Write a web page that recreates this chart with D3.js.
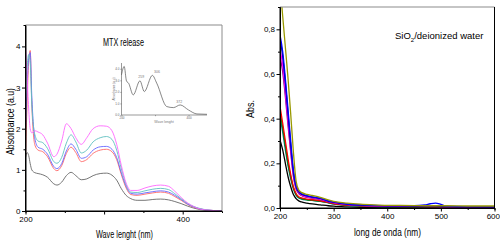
<!DOCTYPE html>
<html>
<head>
<meta charset="utf-8">
<script src="https://cdn.jsdelivr.net/npm/d3@7"></script>
<style>
  body { margin: 0; background: #fff; }
  text { font-family: "Liberation Sans", Arial, sans-serif; }
</style>
</head>
<body>
<div id="fig"></div>
<script>
var W = 500, H = 241;

// ---- left panel : MTX release ----
var nmL = [200, 202, 204, 206, 208, 212, 216, 222, 228, 236, 240, 246, 252, 258, 264, 271, 278, 286, 295, 303,
    310, 316, 322, 328, 334, 342, 352, 362, 372, 382, 390, 398, 406, 414, 422, 430, 440, 450];
var grayL = [1.3, 1.42, 1.35, 1.15, 1.0, 0.93, 0.91, 0.88, 0.82, 0.66, 0.63, 0.7, 0.86, 0.94, 0.86, 0.76, 0.78, 0.86, 0.91, 0.92,
    0.87, 0.75, 0.54, 0.38, 0.3, 0.26, 0.26, 0.28, 0.29, 0.27, 0.23, 0.18, 0.12, 0.07, 0.035, 0.015, 0.005, 0];
var redL = [1.3, 2.6, 3.6, 3.9, 2.6, 1.6, 1.48, 1.44, 1.32, 1.03, 0.98, 1.1, 1.4, 1.55, 1.42, 1.2, 1.25, 1.4, 1.48, 1.5,
    1.44, 1.25, 0.88, 0.56, 0.4, 0.38, 0.41, 0.44, 0.46, 0.43, 0.35, 0.26, 0.16, 0.09, 0.05, 0.025, 0.01, 0];
var blueL = [2.0, 3.0, 3.7, 3.85, 2.8, 1.75, 1.55, 1.5, 1.38, 1.08, 1.03, 1.15, 1.46, 1.63, 1.5, 1.28, 1.32, 1.48, 1.56, 1.57,
    1.5, 1.3, 0.92, 0.6, 0.43, 0.41, 0.44, 0.47, 0.49, 0.46, 0.38, 0.28, 0.17, 0.1, 0.05, 0.025, 0.01, 0];
var tealL = [3.0, 3.5, 3.8, 3.6, 2.6, 1.85, 1.7, 1.66, 1.52, 1.2, 1.16, 1.3, 1.65, 1.85, 1.68, 1.41, 1.48, 1.68, 1.78, 1.81,
    1.74, 1.48, 1.02, 0.64, 0.46, 0.45, 0.49, 0.53, 0.55, 0.52, 0.42, 0.3, 0.19, 0.11, 0.06, 0.03, 0.01, 0];
var pinkL = [3.97, 3.3, 2.5, 2.0, 1.9, 1.95, 1.92, 1.85, 1.65, 1.32, 1.38, 1.7, 2.12, 2.0, 1.78, 1.62, 1.78, 2.0, 2.07, 2.06,
    1.95, 1.62, 1.1, 0.68, 0.5, 0.5, 0.56, 0.61, 0.63, 0.6, 0.48, 0.33, 0.2, 0.11, 0.05, 0.025, 0.01, 0];
var seriesL = [grayL, redL, blueL, tealL, pinkL];
var colorsL = ["#666666", "#ff6666", "#6666ff", "#5fbfbf", "#ff66ff"];

// inset spectrum (single curve)
var nmIn = [200, 208, 215, 221, 235, 255, 268, 292, 305, 335, 355, 375, 400, 425, 455];
var absIn = [3.48, 4.2, 2.93, 2.76, 1.74, 2.96, 2.03, 3.43, 2.76, 0.73, 0.64, 0.87, 0.43, 0.09, 0.06];
var peakIn = [259, 306, 372];
var peakInY = [3.2, 3.65, 1.05];

// ---- right panel : SiO2 / deionized water ----
var nmR = [200, 205, 210, 215, 220, 225, 230, 235, 240, 250, 260, 275, 290, 300, 325, 350, 375, 400, 450, 470, 480, 490, 500, 510, 550, 600];
var oliveR = [1.0, 0.86, 0.72, 0.58, 0.42, 0.25, 0.12, 0.08, 0.07, 0.061, 0.056, 0.048, 0.036, 0.03, 0.022, 0.017, 0.014, 0.012, 0.011, 0.01, 0.01, 0.01, 0.01, 0.01, 0.009, 0.009];
var blueR = [0.775, 0.7, 0.58, 0.44, 0.3, 0.17, 0.1, 0.075, 0.065, 0.055, 0.05, 0.044, 0.032, 0.027, 0.018, 0.014, 0.012, 0.011, 0.011, 0.014, 0.019, 0.022, 0.016, 0.008, 0.006, 0.005];
var navyR = [0.76, 0.68, 0.56, 0.42, 0.28, 0.16, 0.095, 0.072, 0.062, 0.054, 0.049, 0.043, 0.031, 0.026, 0.017, 0.013, 0.011, 0.01, 0.009, 0.008, 0.008, 0.008, 0.007, 0.006, 0.005, 0.005];
var magentaR = [0.71, 0.64, 0.52, 0.39, 0.26, 0.15, 0.09, 0.068, 0.058, 0.05, 0.046, 0.04, 0.03, 0.024, 0.016, 0.012, 0.01, 0.009, 0.008, 0.007, 0.007, 0.007, 0.006, 0.005, 0.004, 0.004];
var purpleR = [0.68, 0.61, 0.5, 0.37, 0.25, 0.14, 0.085, 0.065, 0.056, 0.048, 0.044, 0.038, 0.028, 0.023, 0.015, 0.011, 0.009, 0.008, 0.007, 0.006, 0.006, 0.006, 0.005, 0.005, 0.004, 0.004];
var redR = [0.455, 0.38, 0.3, 0.22, 0.15, 0.095, 0.065, 0.05, 0.045, 0.04, 0.037, 0.032, 0.025, 0.02, 0.013, 0.01, 0.008, 0.007, 0.006, 0.006, 0.005, 0.005, 0.005, 0.005, 0.004, 0.004];
var greenR = [0.43, 0.36, 0.28, 0.2, 0.14, 0.09, 0.06, 0.047, 0.042, 0.037, 0.035, 0.031, 0.024, 0.019, 0.012, 0.009, 0.007, 0.006, 0.005, 0.005, 0.005, 0.005, 0.004, 0.004, 0.004, 0.004];
var tealR = [0.41, 0.34, 0.26, 0.19, 0.13, 0.085, 0.058, 0.045, 0.04, 0.036, 0.034, 0.03, 0.023, 0.018, 0.011, 0.008, 0.006, 0.005, 0.005, 0.004, 0.004, 0.004, 0.004, 0.004, 0.003, 0.003];
var blackR = [0.305, 0.26, 0.2, 0.14, 0.095, 0.06, 0.042, 0.032, 0.027, 0.022, 0.018, 0.014, 0.01, 0.008, 0.005, 0.003, 0.002, 0.002, 0.002, 0.001, 0.001, 0.001, 0.001, 0.001, 0.001, 0.001];
var seriesR = [blackR, tealR, greenR, redR, purpleR, magentaR, navyR, blueR, oliveR];
var colorsR = ["#000000", "#008080", "#008000", "#ff0000", "#800080", "#ff00ff", "#000080", "#0000ff", "#999900"];

var ticksYL = [0, 1, 2, 3, 4];
var ticksXL = [200, 300, 400];
var labelsXL = ["200", "", "400"];
var ticksYR = [0, 0.2, 0.4, 0.6, 0.8];
var labelsYR = ["0,0", "0,2", "0,4", "0,6", "0,8"];
var ticksXR = [200, 300, 400, 500, 600];

var svg = d3.select("#fig").append("svg")
    .attr("width", W)
    .attr("height", H);

// axes helpers
function drawAxes(g, x, y, o) {
    var x0 = x.range()[0], x1 = x.range()[1];
    var y0 = y.range()[0], y1 = y.range()[1];

    // frame: top and right
    g.append("line").attr("x1", x0).attr("x2", x1).attr("y1", y1).attr("y2", y1)
        .attr("stroke", "#8c8c8c").attr("stroke-width", 1.2);
    g.append("line").attr("x1", x1).attr("x2", x1).attr("y1", y1).attr("y2", y0)
        .attr("stroke", o.rightColor).attr("stroke-width", 1);

    var ay = g.append("g")
        .attr("transform", "translate(" + x0 + ",0)")
        .call(d3.axisLeft(y).tickValues(o.yTicks).tickSize(3.5).tickPadding(1.5)
            .tickFormat((d, i) => o.yLabels[i]));
    var ayMinor = g.append("g")
        .attr("transform", "translate(" + x0 + ",0)")
        .call(d3.axisLeft(y).tickValues(o.yMinor).tickSize(2).tickFormat(""));
    var ax = g.append("g")
        .attr("transform", "translate(0," + y0 + ")")
        .call(d3.axisBottom(x).tickValues(o.xTicks).tickSize(3.5).tickPadding(2)
            .tickFormat((d, i) => o.xLabels[i]));
    var axMinor = g.append("g")
        .attr("transform", "translate(0," + y0 + ")")
        .call(d3.axisBottom(x).tickValues(o.xMinor).tickSize(2).tickFormat(""));

    [ay, ayMinor, ax, axMinor].forEach(a => {
        a.select(".domain").attr("stroke", "#000").attr("stroke-width", 1);
        a.selectAll(".tick line").attr("stroke", "#000");
        a.selectAll("text").attr("font-size", 8).attr("fill", "#000")
            .attr("font-family", "Liberation Sans, Arial, sans-serif");
    });
    ay.select(".domain").attr("d", "M0," + y0 + "V" + y1);
    ax.select(".domain").attr("d", "M" + x0 + ",0H" + x1);
    return ax;
}

// ---------- left ----------
var xL = d3.scaleLinear().domain([200, 450]).range([25.5, 222]);
var yL = d3.scaleLinear().domain([0, 4.52]).range([211, 25]);

var gL = svg.append("g");

var lineL = d3.line()
    .x(d => xL(d[0]))
    .y(d => yL(d[1]))
    .curve(d3.curveMonotoneX);

gL.selectAll("path.curve")
    .data(seriesL)
    .join("path")
    .attr("class", "curve")
    .attr("fill", "none")
    .attr("stroke", (d, i) => colorsL[i])
    .attr("stroke-width", 0.9)
    .attr("d", d => lineL(d.map((v, i) => [nmL[i], v])));

drawAxes(gL, xL, yL, {
    rightColor: "#8c8c8c",
    yTicks: ticksYL, yLabels: ticksYL.map(String),
    yMinor: [0.5, 1.5, 2.5, 3.5],
    xTicks: ticksXL, xLabels: labelsXL,
    xMinor: [250, 350]
});

gL.append("text")
    .attr("x", 103).attr("y", 46)
    .attr("font-size", 10)
    .attr("textLength", 41).attr("lengthAdjust", "spacingAndGlyphs")
    .text("MTX release");

gL.append("text")
    .attr("x", 96).attr("y", 237.5)
    .attr("font-size", 10)
    .attr("textLength", 57).attr("lengthAdjust", "spacingAndGlyphs")
    .text("Wave lenght (nm)");

gL.append("text")
    .attr("transform", "translate(13.5,155) rotate(-90)")
    .attr("font-size", 10)
    .attr("textLength", 67).attr("lengthAdjust", "spacingAndGlyphs")
    .text("Absorbance (a.u)");

// inset
var xIn = d3.scaleLinear().domain([200, 455]).range([121.5, 207]);
var yIn = d3.scaleLinear().domain([0, 4.5]).range([115, 63]);
var gIn = gL.append("g");

gIn.append("path")
    .attr("fill", "none")
    .attr("stroke", "#555")
    .attr("stroke-width", 0.7)
    .attr("d", d3.line().x(d => xIn(d[0])).y(d => yIn(d[1])).curve(d3.curveMonotoneX)(nmIn.map((n, i) => [n, absIn[i]])));

var ayIn = gIn.append("g").attr("transform", "translate(121.5,0)")
    .call(d3.axisLeft(yIn).tickValues([0, 1, 2, 3, 4]).tickSize(1.2).tickPadding(1));
var axIn = gIn.append("g").attr("transform", "translate(0,115)")
    .call(d3.axisBottom(xIn).tickValues([200, 300, 400]).tickSize(1.2).tickPadding(1)
        .tickFormat(d => d == 300 ? "" : d));
[ayIn, axIn].forEach(a => {
    a.select(".domain").attr("stroke", "#555").attr("stroke-width", 0.6);
    a.selectAll(".tick line").attr("stroke", "#555").attr("stroke-width", 0.5);
    a.selectAll("text").attr("font-size", 3).attr("fill", "#666");
});
ayIn.select(".domain").attr("d", "M0,115V63");
axIn.select(".domain").attr("d", "M121.5,0H207");

gIn.selectAll("text.peak")
    .data(peakIn)
    .join("text")
    .attr("class", "peak")
    .attr("x", d => xIn(d))
    .attr("y", (d, i) => yIn(peakInY[i]))
    .attr("text-anchor", "middle")
    .attr("font-size", 3.5)
    .attr("fill", "#777")
    .text(d => d);

gIn.append("text")
    .attr("x", 164).attr("y", 123)
    .attr("text-anchor", "middle")
    .attr("font-size", 3.5).attr("fill", "#777")
    .text("Wave lenght");
gIn.append("text")
    .attr("transform", "translate(115,89) rotate(-90)")
    .attr("text-anchor", "middle")
    .attr("font-size", 3).attr("fill", "#777")
    .text("Absorbance (a.u)");

// ---------- right ----------
var xR = d3.scaleLinear().domain([200, 600]).range([280, 494.5]);
var yR = d3.scaleLinear().domain([0, 0.9]).range([208, 7]);

var gR = svg.append("g");

svg.append("clipPath").attr("id", "clipR")
    .append("rect").attr("x", 280).attr("y", 7).attr("width", 214.5).attr("height", 201);

var lineR = d3.line()
    .x(d => xR(d[0]))
    .y(d => yR(d[1]))
    .curve(d3.curveMonotoneX);

gR.append("g").attr("clip-path", "url(#clipR)")
    .selectAll("path")
    .data(seriesR)
    .join("path")
    .attr("fill", "none")
    .attr("stroke", (d, i) => colorsR[i])
    .attr("stroke-width", 1.3)
    .attr("d", d => lineR(d.map((v, i) => [nmR[i], v])));

var axR = drawAxes(gR, xR, yR, {
    rightColor: "#000",
    yTicks: ticksYR, yLabels: labelsYR,
    yMinor: [0.1, 0.3, 0.5, 0.7],
    xTicks: ticksXR, xLabels: ticksXR.map(String),
    xMinor: [250, 350, 450, 550]
});
// keep the last label inside the page
axR.selectAll(".tick text").filter(d => d == 600).attr("text-anchor", "end").attr("dx", 5);

var tSi = gR.append("text")
    .attr("x", 395).attr("y", 39)
    .attr("font-size", 9.5);
tSi.append("tspan").text("SiO");
tSi.append("tspan").attr("font-size", 6).attr("dy", 2.5).text("2");
tSi.append("tspan").attr("dy", -2.5).text("/deionized water");

gR.append("text")
    .attr("x", 354).attr("y", 236)
    .attr("font-size", 10.5)
    .attr("textLength", 67).attr("lengthAdjust", "spacingAndGlyphs")
    .text("long de onda (nm)");

gR.append("text")
    .attr("transform", "translate(254,118) rotate(-90)")
    .attr("font-size", 10)
    .attr("textLength", 18).attr("lengthAdjust", "spacingAndGlyphs")
    .text("Abs.");
</script>
</body>
</html>
